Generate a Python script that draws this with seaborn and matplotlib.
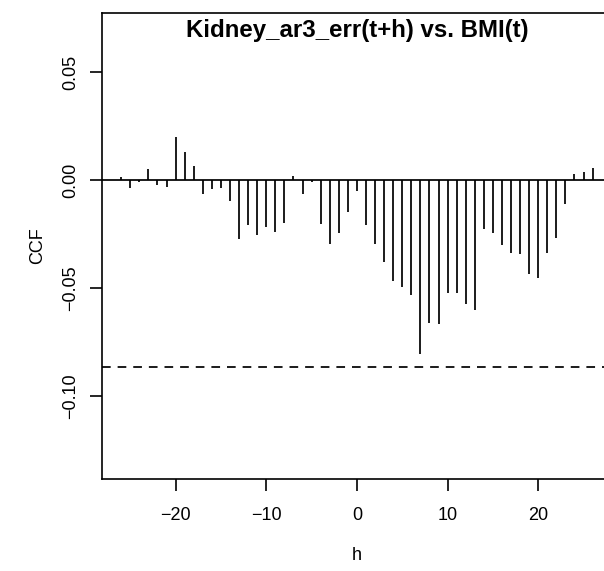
import numpy as np
import matplotlib
matplotlib.use("Agg")
import matplotlib.pyplot as plt
import seaborn as sns

# Cross-correlation of Kidney_ar3_err(t+h) with BMI(t), lags -26..26
lags = list(range(-26, 27))
ccf = [
    0.0017, -0.0037, -0.0007, 0.0051, -0.0020, -0.0030, 0.0202, 0.0130, 0.0066,
    -0.0063, -0.0042, -0.0037, -0.0096, -0.0273, -0.0207, -0.0253, -0.0218,
    -0.0238, -0.0199, 0.0021, -0.0063, -0.0008, -0.0202, -0.0296, -0.0245,
    -0.0148, -0.0048, -0.0205, -0.0296, -0.0378, -0.0466, -0.0494, -0.0531,
    -0.0804, -0.0659, -0.0665, -0.0523, -0.0523, -0.0574, -0.0602, -0.0227,
    -0.0245, -0.0301, -0.0335, -0.0341, -0.0434, -0.0452, -0.0338, -0.0269,
    -0.0110, 0.0028, 0.0037, 0.0057,
]
conf_bound = 0.0863
x_ticks = [-20, -10, 0, 10, 20]
y_ticks = [-0.10, -0.05, 0.00, 0.05]
title = "Kidney_ar3_err(t+h) vs. BMI(t)"

sns.set_theme(style="ticks")
plt.rcParams["font.family"] = ["Liberation Sans", "DejaVu Sans"]
plt.rcParams.update({
    "text.color": "black",
    "axes.labelcolor": "black",
    "xtick.color": "black",
    "ytick.color": "black",
    "axes.edgecolor": "black",
    "axes.linewidth": 1.2,
})

fig = plt.figure(figsize=(6.04, 5.71), dpi=100)
ax = fig.add_axes([0.1694, 0.1611, 0.843, 0.8167])

ax.vlines(lags, 0, ccf, colors="black", linewidth=1.25)
ax.axhline(0, color="black", linewidth=1.25)
ax.axhline(-conf_bound, color="black", linewidth=1.25, linestyle=(0, (5, 4)))
ax.axhline(conf_bound, color="black", linewidth=1.25, linestyle=(0, (5, 4)))

ax.set_xlim(-28.08, 28.08)
ax.set_ylim(-0.1383, 0.0776)
ax.set_xticks(x_ticks)
ax.set_xticklabels(["\u221220", "\u221210", "0", "10", "20"])
ax.set_yticks(y_ticks)
ax.set_yticklabels(["\u22120.10", "\u22120.05", "0.00", "0.05"], rotation=90, va="center")

ax.tick_params(axis="both", direction="out", length=8.5, width=1.2, colors="black",
               labelsize=13)
ax.tick_params(axis="x", pad=12)
ax.tick_params(axis="y", pad=8)

ax.set_xlabel("h", fontsize=13, labelpad=16)
ax.set_ylabel("CCF", fontsize=13, labelpad=12)

ax.text(0.5, 0.961, title, transform=ax.transAxes, ha="center", va="center",
        fontsize=17.3, fontweight="bold")

fig.savefig("out.png", dpi=100)
